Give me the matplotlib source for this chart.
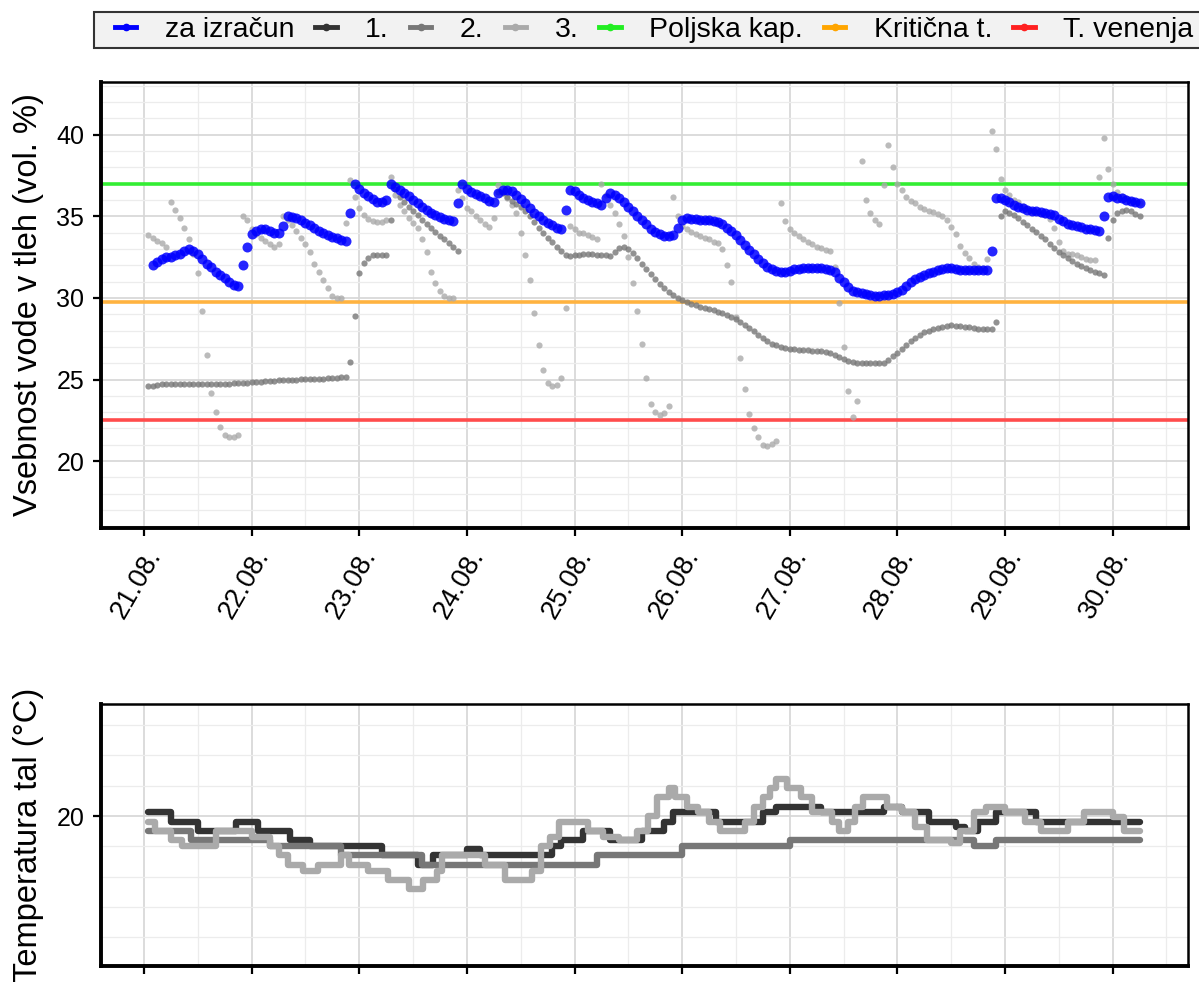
import numpy as np
import matplotlib.pyplot as plt
from matplotlib.lines import Line2D
from matplotlib.patches import Rectangle
from matplotlib.ticker import MultipleLocator

plt.rcParams['font.family'] = ['Liberation Sans', 'DejaVu Sans']

day_labels = ['21.08.', '22.08.', '23.08.', '24.08.', '25.08.',
              '26.08.', '27.08.', '28.08.', '29.08.', '30.08.']

# soil water content, hourly readings (hours since 21.08. 00:00)
blue_start = 2
blue = [32.0, 32.2, 32.4, 32.5, 32.5, 32.6, 32.7, 32.9, 33.0, 32.9, 32.7, 32.4, 32.1, 31.9,
        31.6, 31.4, 31.2, 31.0, 30.8, 30.7, 32.0, 33.1, 33.9, 34.1, 34.2, 34.2, 34.1, 34.0,
        34.0, 34.4, 35.0, 34.95, 34.9, 34.75, 34.6, 34.45, 34.3, 34.1, 33.95, 33.85, 33.75,
        33.65, 33.55, 33.5, 35.2, 37.0, 36.7, 36.45, 36.25, 36.05, 35.9, 35.85, 36.0, 37.0,
        36.8, 36.6, 36.45, 36.25, 36.0, 35.8, 35.6, 35.4, 35.2, 35.05, 34.95, 34.85, 34.75,
        34.7, 35.8, 37.0, 36.7, 36.5, 36.35, 36.25, 36.1, 35.95, 35.85, 36.4, 36.6, 36.62,
        36.55, 36.3, 36.05, 35.8, 35.5, 35.2, 35.0, 34.8, 34.6, 34.45, 34.3, 34.2, 35.4, 36.6,
        36.55, 36.3, 36.1, 36.0, 35.9, 35.8, 35.7, 36.1, 36.4, 36.3, 36.1, 35.85, 35.6, 35.3,
        35.0, 34.75, 34.5, 34.25, 34.05, 33.9, 33.8, 33.8, 33.85, 34.3, 34.8, 34.9, 34.85,
        34.85, 34.8, 34.75, 34.75, 34.7, 34.65, 34.5, 34.3, 34.1, 33.85, 33.55, 33.25, 32.95,
        32.7, 32.4, 32.15, 31.9, 31.75, 31.65, 31.6, 31.6, 31.65, 31.75, 31.8, 31.85, 31.85,
        31.85, 31.85, 31.85, 31.8, 31.7, 31.6, 31.25, 30.95, 30.65, 30.45, 30.35, 30.3, 30.25,
        30.15, 30.1, 30.1, 30.15, 30.2, 30.25, 30.35, 30.5, 30.75, 30.95, 31.15, 31.3, 31.4,
        31.55, 31.6, 31.7, 31.8, 31.85, 31.85, 31.75, 31.7, 31.7, 31.7, 31.7, 31.7, 31.7, 31.7,
        32.9, 36.1, 36.15, 36.0, 35.85, 35.7, 35.6, 35.5, 35.4, 35.35, 35.3, 35.25, 35.2,
        35.15, 35.05, 34.85, 34.7, 34.55, 34.45, 34.4, 34.35, 34.25, 34.2, 34.15, 34.1, 35.0,
        36.2, 36.25, 36.15, 36.1, 36.0, 35.95, 35.85, 35.8]

s2a_start = 1
s2a = [24.6, 24.6, 24.65, 24.7, 24.7, 24.7, 24.75, 24.75, 24.75, 24.75, 24.75, 24.72, 24.7,
       24.7, 24.7, 24.7, 24.7, 24.72, 24.75, 24.78, 24.8, 24.8, 24.8, 24.82, 24.85, 24.85,
       24.88, 24.9, 24.92, 24.95, 24.95, 24.98, 25.0, 25.0, 25.02, 25.05, 25.05, 25.05, 25.05,
       25.05, 25.08, 25.1, 25.12, 25.13, 25.13, 26.1, 28.9, 31.5, 32.15, 32.45, 32.6, 32.62,
       32.62, 32.62, 34.8, 36.7, 36.2, 35.9, 35.6, 35.3, 35.05, 34.77, 34.5, 34.27, 34.03,
       33.8, 33.58, 33.35, 33.13, 32.9]

s2b_start = 79
s2b = [36.5, 36.4, 36.2, 35.95, 35.75, 35.55, 35.3, 35.0, 34.65, 34.3, 34.0, 33.7, 33.4,
       33.1, 32.85, 32.6, 32.55, 32.6, 32.65, 32.7, 32.7, 32.7, 32.65, 32.65, 32.6, 32.55,
       32.8, 33.05, 33.15, 33.0, 32.75, 32.45, 32.1, 31.8, 31.45, 31.15, 30.85, 30.6, 30.35,
       30.15, 30.0, 29.85, 29.75, 29.65, 29.55, 29.45, 29.4, 29.3, 29.25, 29.15, 29.05, 28.95,
       28.85, 28.7, 28.5, 28.35, 28.15, 27.95, 27.75, 27.55, 27.35, 27.2, 27.1, 27.0, 26.95,
       26.9, 26.85, 26.82, 26.8, 26.78, 26.75, 26.73, 26.72, 26.7, 26.6, 26.5, 26.4, 26.25,
       26.15, 26.05, 26.0, 26.0, 26.0, 26.0, 26.0, 26.0, 26.0, 26.2, 26.45, 26.65, 26.85,
       27.1, 27.35, 27.55, 27.75, 27.9, 28.0, 28.1, 28.15, 28.2, 28.28, 28.33, 28.3, 28.25,
       28.22, 28.2, 28.15, 28.1, 28.1, 28.1, 28.1, 28.5, 35.0, 35.35, 35.2, 35.1, 34.9, 34.65,
       34.45, 34.25, 34.05, 33.8, 33.6, 33.3, 33.05, 32.8, 32.6, 32.45, 32.25, 32.1, 31.95,
       31.85, 31.7, 31.6, 31.5, 31.4, 33.7, 34.8, 35.2, 35.35, 35.4, 35.3, 35.15, 35.0]

s3_start = 1
s3 = [33.85, 33.7, 33.5, 33.35, 33.15, 35.9, 35.4, 34.9, 34.3, 33.6, 32.7, 31.5, 29.2, 26.5,
      24.2, 23.0, 22.1, 21.6, 21.5, 21.5, 21.6, 35.0, 34.8, 34.2, 33.9, 33.7, 33.5, 33.3, 33.1,
      33.3, 35.0, 34.75, 34.45, 34.1, 33.7, 33.3, 32.8, 32.1, 31.6, 31.1, 30.6, 30.1, 30.0,
      30.0, 34.6, 37.2, 36.2, 35.5, 35.1, 34.85, 34.7, 34.65, 34.65, 34.8, 37.4, 36.3, 35.7,
      35.3, 34.9, 34.6, 34.3, 33.6, 32.8, 31.6, 30.9, 30.45, 30.1, 30.0, 30.0, 36.6, 36.1,
      35.5, 35.3, 35.0, 34.75, 34.55, 34.35, 34.9, 36.9, 36.5, 36.1, 35.7, 35.2, 34.0, 32.6,
      31.1, 29.1, 27.1, 25.6, 24.8, 24.6, 24.65, 25.1, 29.4, 34.4, 34.2, 34.0, 33.95, 33.85,
      33.75, 33.6, 37.0, 36.3, 35.7, 35.2, 34.5, 33.8, 32.5, 30.9, 29.2, 27.2, 25.1, 23.5,
      23.0, 22.8, 22.95, 23.4, 36.2, 35.0, 34.4, 34.2, 34.05, 33.9, 33.8, 33.7, 33.6, 33.45,
      33.35, 33.0, 32.0, 31.0, 28.8, 26.3, 24.4, 22.9, 22.0, 21.45, 21.0, 20.95, 21.05, 21.25,
      35.8, 34.7, 34.2, 33.97, 33.8, 33.6, 33.45, 33.3, 33.15, 33.05, 32.95, 32.85, 31.9,
      29.7, 27.0, 24.3, 22.7, 23.7, 38.4, 36.0, 35.2, 34.8, 34.5, 36.9, 39.4, 38.0, 37.0,
      36.6, 36.2, 35.95, 35.8, 35.6, 35.45, 35.35, 35.25, 35.15, 35.0, 34.8, 34.35, 33.9,
      33.2, 32.75, 32.45, 32.05, 31.9, 31.85, 32.4, 40.2, 39.1, 37.3, 36.6, 36.3, 36.0, 35.85,
      35.65, 35.45, 35.35, 35.25, 35.15, 35.05, 34.85, 34.3, 33.4, 32.85, 32.7, 32.68, 32.6,
      32.5, 32.4, 32.35, 32.33, 37.4, 39.8, 37.9, 37.0, 36.5, 36.25, 36.1, 36.0, 35.9, 35.8]

poljska_kap = 37.0
kriticna_t = 29.77
t_venenja = 22.5

# soil temperature, level changes (hour where a level starts, last entry = end)
t1_h = [1, 6, 12, 20.5, 25.5, 32.5, 37, 53, 61, 64.5, 72, 75, 91, 93, 98, 104, 111, 116,
        118, 127.5, 138, 141, 151, 165, 169, 175, 181, 183, 186, 190, 199, 222]
t1_v = [20.12, 19.81, 19.51, 19.81, 19.51, 19.2, 19.0, 18.7, 18.4, 18.7, 18.9, 18.7, 19.0,
        19.2, 19.51, 19.2, 19.51, 19.81, 20.12, 19.81, 20.12, 20.31, 20.12, 20.31, 20.12,
        19.81, 19.64, 19.51, 19.81, 20.12, 19.81]
t2_h = [1, 10.5, 28, 44, 62, 101, 120, 144, 185, 190, 222]
t2_v = [19.51, 19.2, 19.0, 18.7, 18.4, 18.7, 19.0, 19.2, 19.0, 19.2]
t3_h = [1, 2.5, 6, 8.5, 16, 24, 28, 30, 32, 35.4, 38.8, 44, 45.8, 50, 54.5, 59, 62.3, 65.3,
        66.5, 76, 80.5, 86.6, 88.5, 90.5, 92.5, 99, 102.4, 106, 110, 112.5, 114.5, 117,
        118.5, 121, 123.5, 126, 128.4, 134, 136, 138, 139.5, 141, 143.3, 146.4, 149, 153.4,
        155, 157, 158.5, 160.4, 165.7, 169, 172, 174.5, 180, 182, 185, 187.7, 192, 196.5,
        200, 206, 209.7, 216, 218.5, 222]
t3_v = [19.81, 19.51, 19.2, 19.0, 19.51, 19.3, 19.0, 18.7, 18.4, 18.2, 18.4, 18.7, 18.4,
        18.2, 17.9, 17.59, 17.9, 18.2, 18.7, 18.4, 17.9, 18.2, 19.0, 19.3, 19.81, 19.51,
        19.3, 19.2, 19.51, 20.0, 20.62, 20.92, 20.62, 20.31, 20.12, 19.81, 19.51, 19.81,
        20.31, 20.62, 20.92, 21.23, 20.92, 20.62, 20.12, 19.81, 19.51, 19.81, 20.31, 20.62,
        20.31, 20.12, 19.64, 19.2, 19.1, 19.51, 20.12, 20.31, 20.12, 19.81, 19.51, 19.81,
        20.12, 19.98, 19.51]

c_blue, c1, c2, c3 = '#0000ff', '#333333', '#777777', '#aaaaaa'
c_green, c_orange, c_red = '#33ee33', '#ffb340', '#ff4c4c'


def days(start, vals):
    return (start + np.arange(len(vals))) / 24.0


fig = plt.figure(figsize=(11.99, 9.82), dpi=100)
ax1 = fig.add_axes([0.0842, 0.4623, 0.9066, 0.4542])
ax2 = fig.add_axes([0.0842, 0.0163, 0.9066, 0.2668])

for ax in (ax1, ax2):
    ax.set_xticks(range(10))
    ax.set_xlim(-0.40, 9.70)
    ax.xaxis.set_minor_locator(MultipleLocator(0.5))
    ax.yaxis.set_minor_locator(MultipleLocator(1))
    ax.grid(which='major', color='#d6d6d6', lw=1.2)
    ax.grid(which='minor', color='#ececec', lw=0.9)
    ax.set_axisbelow(True)
    ax.tick_params(which='major', direction='out', length=6, width=1.6,
                   labelsize=18, pad=6)
    ax.tick_params(which='minor', length=0)
    for side in ('top', 'right'):
        ax.spines[side].set_linewidth(1.8)
    for side in ('left', 'bottom'):
        ax.spines[side].set_linewidth(2.8)

# top panel
ax1.axhline(poljska_kap, color=c_green, lw=2.6, zorder=2)
ax1.axhline(kriticna_t, color=c_orange, lw=2.6, zorder=2)
ax1.axhline(t_venenja, color=c_red, lw=2.6, zorder=2)
ax1.scatter(days(s3_start, s3), s3, s=20, color=c3, alpha=0.8, lw=0, zorder=3)
ax1.scatter(days(s2a_start, s2a), s2a, s=20, color=c2, alpha=0.8, lw=0, zorder=3)
ax1.scatter(days(s2b_start, s2b), s2b, s=20, color=c2, alpha=0.8, lw=0, zorder=3)
ax1.scatter(days(blue_start, blue), blue, s=52, color=c_blue, alpha=0.85, lw=0, zorder=4)
ax1.set_yticks([20, 25, 30, 35, 40])
ax1.set_ylim(15.9, 43.23)
ax1.set_xticklabels(day_labels, rotation=60, ha='right', va='top',
                    rotation_mode='anchor', fontsize=19.5)
ax1.set_ylabel('Vsebnost vode v tleh (vol. %)', fontsize=23.5)
ax1.yaxis.set_label_coords(-0.052, 0.5)

# bottom panel
for th, tv, c in ((t1_h, t1_v, c1), (t2_h, t2_v, c2), (t3_h, t3_v, c3)):
    ax2.plot(np.array(th) / 24.0, tv + [tv[-1]], drawstyle='steps-post',
             color=c, lw=4.6, solid_capstyle='round', solid_joinstyle='round')
ax2.set_yticks([10, 20, 30])
ax2.set_ylim(15.05, 23.7)
ax2.tick_params(axis='x', labelbottom=False)
ax2.set_ylabel('Temperatura tal (°C)', fontsize=23.5)
ax2.yaxis.set_label_coords(-0.052, 0.5)

# legend across the top
fig.add_artist(Rectangle((93.5 / 1199, 1 - 48 / 982), 0.95, 36 / 982,
                         transform=fig.transFigure, facecolor='#f2f2f2',
                         edgecolor='#333333', lw=1.5, zorder=1))
names = ['za izračun', '1.', '2.', '3.', 'Poljska kap.', 'Kritična t.', 'T. venenja']
cols = [c_blue, c1, c2, c3, '#22ee22', '#ffa500', '#ff2020']
handles = [Line2D([0], [0], color=c, lw=3.5, marker='o', ms=4.5) for c in cols]
fig.legend(handles, names, loc='center left', bbox_to_anchor=(115 / 1199, 1 - 30 / 982),
           ncol=7, frameon=False, fontsize=20.5, handlelength=0.75, handletextpad=1.0,
           columnspacing=0.74, borderpad=0, borderaxespad=0)

fig.savefig('out.png', dpi=100)
